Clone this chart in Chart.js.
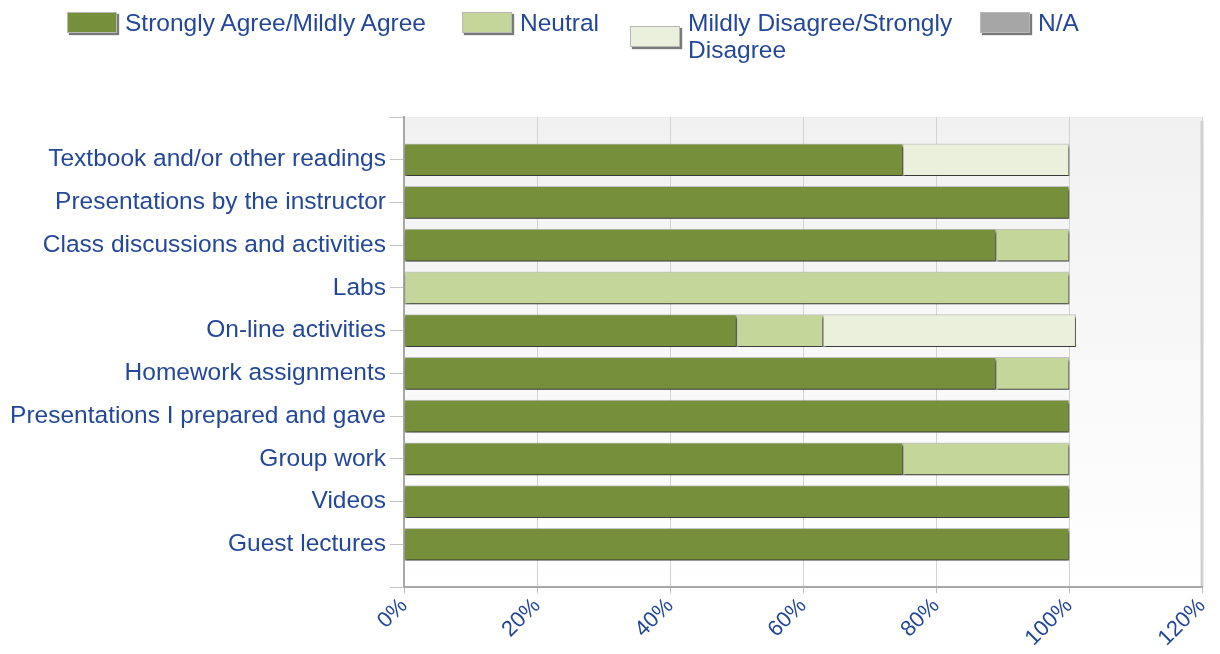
<!DOCTYPE html>
<html>
<head>
<meta charset="utf-8">
<script src="https://cdn.jsdelivr.net/npm/chart.js@4.4.1/dist/chart.umd.min.js"></script>
<style>
  body { margin: 0; background: #fff; font-family: "Liberation Sans", Arial, sans-serif; }
  #wrap { position: relative; width: 1220px; height: 654px; }
  .lg-item { position: absolute; top: 9px; display: flex; align-items: center; }
  .lg-box { width: 48px; height: 19px; border: 1px solid #b8b8b8; box-shadow: 2px 2px 1px #7a7a7a; margin: 0 8px 0 0; flex: none; }
  .lg-text { font-size: 24.5px; line-height: 27px; color: #23489a; }
</style>
</head>
<body>
<div id="wrap">
  <canvas id="chart" width="1220" height="654"></canvas>
  <div id="legend"></div>
</div>
<script>
const categories = [
  "Textbook and/or other readings",
  "Presentations by the instructor",
  "Class discussions and activities",
  "Labs",
  "On-line activities",
  "Homework assignments",
  "Presentations I prepared and gave",
  "Group work",
  "Videos",
  "Guest lectures"
];
const seriesNames = ["Strongly Agree/Mildly Agree", "Neutral", "Mildly Disagree/Strongly Disagree", "N/A"];
const agree    = [75, 100, 89, 0, 50, 89, 100, 75, 100, 100];
const neutral  = [0, 0, 11, 100, 13, 11, 0, 25, 0, 0];
const disagree = [25, 0, 0, 0, 38, 0, 0, 0, 0, 0];
const notAppl  = [0, 0, 0, 0, 0, 0, 0, 0, 0, 0];
const xTicks = [0, 20, 40, 60, 80, 100, 120];
const colors = ["#768f3b", "#c5d69b", "#ebf0dc", "#a6a6a6"];

const textColor = "#23489a";
const family = "'Liberation Sans', Arial, sans-serif";

function toPoints(arr) {
  return arr.map((v, i) => ({ x: v, y: i }));
}

const plotBg = {
  id: "plotBg",
  beforeDraw(chart) {
    const { ctx, chartArea: a } = chart;
    const g = ctx.createLinearGradient(0, a.top, 0, a.bottom);
    g.addColorStop(0, "#f1f1f1");
    g.addColorStop(1, "#ffffff");
    ctx.save();
    ctx.fillStyle = g;
    ctx.fillRect(a.left, a.top, a.right - a.left, a.bottom - a.top);
    ctx.strokeStyle = "#ececec";
    ctx.beginPath();
    ctx.moveTo(a.left, a.top + 0.5);
    ctx.lineTo(a.right, a.top + 0.5);
    ctx.stroke();
    ctx.strokeStyle = "#cfcfcf";
    ctx.lineWidth = 3;
    ctx.beginPath();
    ctx.moveTo(a.right, a.top + 4);
    ctx.lineTo(a.right, a.bottom);
    ctx.stroke();
    ctx.restore();
  }
};

const barShadow = {
  id: "barShadow",
  beforeDatasetsDraw(chart) {
    const c = chart.ctx;
    c.save();
    c.shadowColor = "rgba(0,0,0,0.7)";
    c.shadowOffsetX = 1;
    c.shadowOffsetY = 3;
    c.shadowBlur = 2;
  },
  afterDatasetsDraw(chart) {
    chart.ctx.restore();
  }
};

const series = [agree, neutral, disagree, notAppl];

const chart = new Chart(document.getElementById("chart"), {
  type: "bar",
  data: {
    datasets: series.map((s, k) => ({
      label: seriesNames[k],
      data: toPoints(s),
      backgroundColor: colors[k],
      borderColor: "rgba(160,160,160,0.6)",
      borderWidth: 1,
      borderSkipped: false,
      barThickness: 32
    }))
  },
  options: {
    indexAxis: "y",
    responsive: false,
    animation: false,
    layout: { padding: { top: 117, right: 18, left: 0, bottom: 0 } },
    plugins: {
      legend: { display: false },
      tooltip: { enabled: false }
    },
    scales: {
      x: {
        type: "linear",
        stacked: true,
        min: 0,
        max: 120,
        afterBuildTicks: s => { s.ticks = xTicks.map(v => ({ value: v })); },
        ticks: {
          callback: v => v + "%",
          color: textColor,
          font: { family, size: 22 },
          maxRotation: 45,
          minRotation: 45,
          padding: 0
        },
        grid: { color: "#d3d3d3", tickLength: 6, tickColor: "#bdbdbd" },
        border: { color: "#a8a8a8", width: 2 },
        afterFit: s => { s.height = 67; s.paddingRight = 0; s.paddingLeft = 0; }
      },
      y: {
        type: "linear",
        stacked: true,
        reverse: true,
        offset: false,
        min: -1,
        max: 10,
        ticks: {
          stepSize: 1,
          autoSkip: false,
          callback: v => categories[v] ?? "",
          color: textColor,
          font: { family, size: 24.5 },
          padding: 4
        },
        grid: { offset: false, drawOnChartArea: false, tickLength: 14, color: "#c4c4c4" },
        border: { color: "#a8a8a8", width: 2 },
        afterFit: s => { s.width = 404; s.paddingTop = 0; s.paddingBottom = 0; }
      }
    }
  },
  plugins: [plotBg, barShadow]
});

// legend built from the datasets
const legendLefts = [67, 462, 630, 980];
const legendWidths = [null, null, 272, null];
const legendEl = document.getElementById("legend");
chart.data.datasets.forEach((ds, k) => {
  const item = document.createElement("div");
  item.className = "lg-item";
  item.style.left = legendLefts[k] + "px";
  const box = document.createElement("div");
  box.className = "lg-box";
  box.style.background = ds.backgroundColor;
  const txt = document.createElement("div");
  txt.className = "lg-text";
  txt.textContent = ds.label;
  if (legendWidths[k]) txt.style.width = legendWidths[k] + "px";
  item.appendChild(box);
  item.appendChild(txt);
  legendEl.appendChild(item);
});
</script>
</body>
</html>
